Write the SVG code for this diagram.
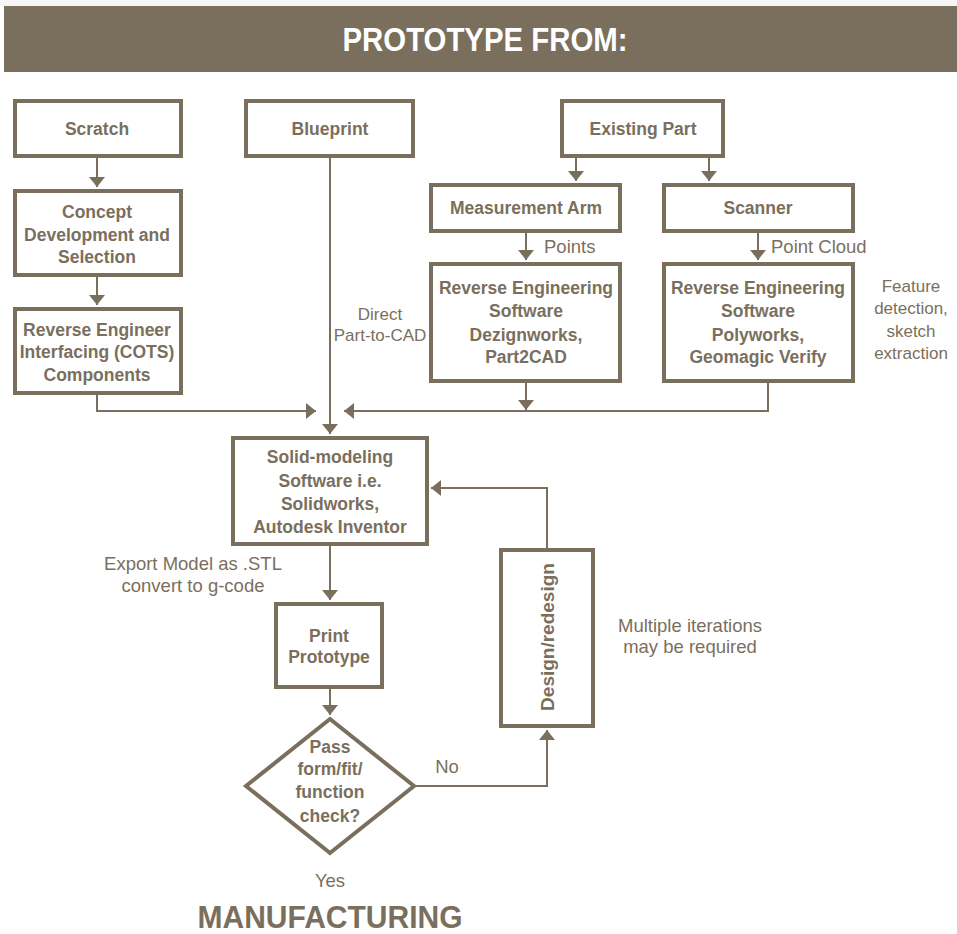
<svg xmlns="http://www.w3.org/2000/svg" width="957" height="934" viewBox="0 0 957 934">
<defs>
<style>
.box{fill:#fff;stroke:#7a6f5d;stroke-width:4}
.ln{fill:none;stroke:#7a6f5d;stroke-width:2}
.b{font-family:"Liberation Sans",Arial,sans-serif;font-weight:bold;font-size:17.5px;fill:#7a6f5d;text-anchor:middle}
.r{font-family:"Liberation Sans",Arial,sans-serif;font-size:18.5px;fill:#7a6f5d;text-anchor:middle}
.s{font-size:17px}
</style>
<marker id="ah" markerWidth="10" markerHeight="16" refX="10" refY="8" orient="auto" markerUnits="userSpaceOnUse">
<path d="M0,0 L10,8 L0,16 z" fill="#7a6f5d"/>
</marker>
</defs>
<rect width="957" height="934" fill="#fff"/>
<rect width="957" height="6" fill="#f5f5f5"/>
<g id="header">
<rect x="4" y="6" width="953" height="66" fill="#7a6f5d"/>
<text x="485" y="51" font-family="'Liberation Sans',Arial,sans-serif" font-weight="bold" font-size="33" fill="#fff" text-anchor="middle" textLength="285" lengthAdjust="spacingAndGlyphs">PROTOTYPE FROM:</text>
</g>
<g id="connectors">
<line class="ln" x1="97" y1="158" x2="97" y2="187" marker-end="url(#ah)"/>
<line class="ln" x1="97" y1="277" x2="97" y2="305" marker-end="url(#ah)"/>
<polyline class="ln" points="97,395 97,411 316,411" marker-end="url(#ah)"/>
<line class="ln" x1="330" y1="158" x2="330" y2="434" marker-end="url(#ah)"/>
<line class="ln" x1="576" y1="158" x2="576" y2="181" marker-end="url(#ah)"/>
<line class="ln" x1="709" y1="158" x2="709" y2="181" marker-end="url(#ah)"/>
<line class="ln" x1="526" y1="233" x2="526" y2="260" marker-end="url(#ah)"/>
<line class="ln" x1="758" y1="233" x2="758" y2="260" marker-end="url(#ah)"/>
<line class="ln" x1="526" y1="383" x2="526" y2="410" marker-end="url(#ah)"/>
<polyline class="ln" points="768,383 768,411 344,411" marker-end="url(#ah)"/>
<line class="ln" x1="330" y1="546" x2="330" y2="600" marker-end="url(#ah)"/>
<line class="ln" x1="330" y1="689" x2="330" y2="715" marker-end="url(#ah)"/>
<polyline class="ln" points="416,786 547,786 547,730" marker-end="url(#ah)"/>
<polyline class="ln" points="547,548 547,488 431,488" marker-end="url(#ah)"/>
</g>
<g id="scratch"><rect class="box" x="15" y="101" width="166" height="55"/><text class="b" x="97" y="135">Scratch</text></g>
<g id="concept"><rect class="box" x="15" y="191" width="166" height="84"/>
<text class="b" x="97" y="218">Concept</text><text class="b" x="97" y="241">Development and</text><text class="b" x="97" y="263">Selection</text></g>
<g id="cots"><rect class="box" x="15" y="309" width="166" height="84"/>
<text class="b" x="97" y="336">Reverse Engineer</text><text class="b" x="97" y="358">Interfacing (COTS)</text><text class="b" x="97" y="381">Components</text></g>
<g id="blueprint"><rect class="box" x="246" y="101" width="167" height="55"/><text class="b" x="330" y="135">Blueprint</text></g>
<g id="existing"><rect class="box" x="562" y="101" width="161" height="55"/><text class="b" x="643" y="135">Existing Part</text></g>
<g id="arm"><rect class="box" x="431" y="185" width="189" height="46"/><text class="b" x="526" y="214">Measurement Arm</text></g>
<g id="scanner"><rect class="box" x="664" y="185" width="189" height="46"/><text class="b" x="758" y="214">Scanner</text></g>
<g id="re1"><rect class="box" x="431" y="264" width="189" height="117"/>
<text class="b" x="526" y="294">Reverse Engineering</text><text class="b" x="526" y="317">Software</text><text class="b" x="526" y="341">Dezignworks,</text><text class="b" x="526" y="363">Part2CAD</text></g>
<g id="re2"><rect class="box" x="664" y="264" width="189" height="117"/>
<text class="b" x="758" y="294">Reverse Engineering</text><text class="b" x="758" y="317">Software</text><text class="b" x="758" y="341">Polyworks,</text><text class="b" x="758" y="363">Geomagic Verify</text></g>
<g id="solid"><rect class="box" x="233" y="438" width="194" height="106"/>
<text class="b" x="330" y="463">Solid-modeling</text><text class="b" x="330" y="487">Software i.e.</text><text class="b" x="330" y="510">Solidworks,</text><text class="b" x="330" y="533">Autodesk Inventor</text></g>
<g id="print"><rect class="box" x="276" y="604" width="106" height="83"/>
<text class="b" x="329" y="642">Print</text><text class="b" x="329" y="663">Prototype</text></g>
<g id="check"><polygon points="330,719 414,786 330,853 246,786" fill="#fff" stroke="#7a6f5d" stroke-width="4" stroke-linejoin="miter"/>
<text class="b" x="330" y="753">Pass</text><text class="b" x="330" y="775">form/fit/</text><text class="b" x="330" y="798">function</text><text class="b" x="330" y="822">check?</text></g>
<g id="design"><rect class="box" x="501" y="550" width="92" height="176"/>
<text class="b" transform="translate(554,637) rotate(-90)" x="0" y="0" style="font-size:19px">Design/redesign</text></g>
<g id="labels">
<text class="r s" x="380" y="320">Direct</text><text class="r s" x="380" y="341">Part-to-CAD</text>
<text class="r" x="544" y="253" style="text-anchor:start">Points</text>
<text class="r" x="771" y="253" style="text-anchor:start">Point Cloud</text>
<text class="r s" x="911" y="292">Feature</text><text class="r s" x="911" y="314">detection,</text><text class="r s" x="911" y="337">sketch</text><text class="r s" x="911" y="359">extraction</text>
<text class="r" x="193" y="570">Export Model as .STL</text><text class="r" x="193" y="592">convert to g-code</text>
<text class="r" x="690" y="632">Multiple iterations</text><text class="r" x="690" y="653">may be required</text>
<text class="r" x="447" y="773">No</text>
<text class="r" x="330" y="887">Yes</text>
<text x="330" y="928" font-family="'Liberation Sans',Arial,sans-serif" font-weight="bold" font-size="32" fill="#7a6f5d" text-anchor="middle" textLength="265" lengthAdjust="spacingAndGlyphs">MANUFACTURING</text>
</g>
</svg>
